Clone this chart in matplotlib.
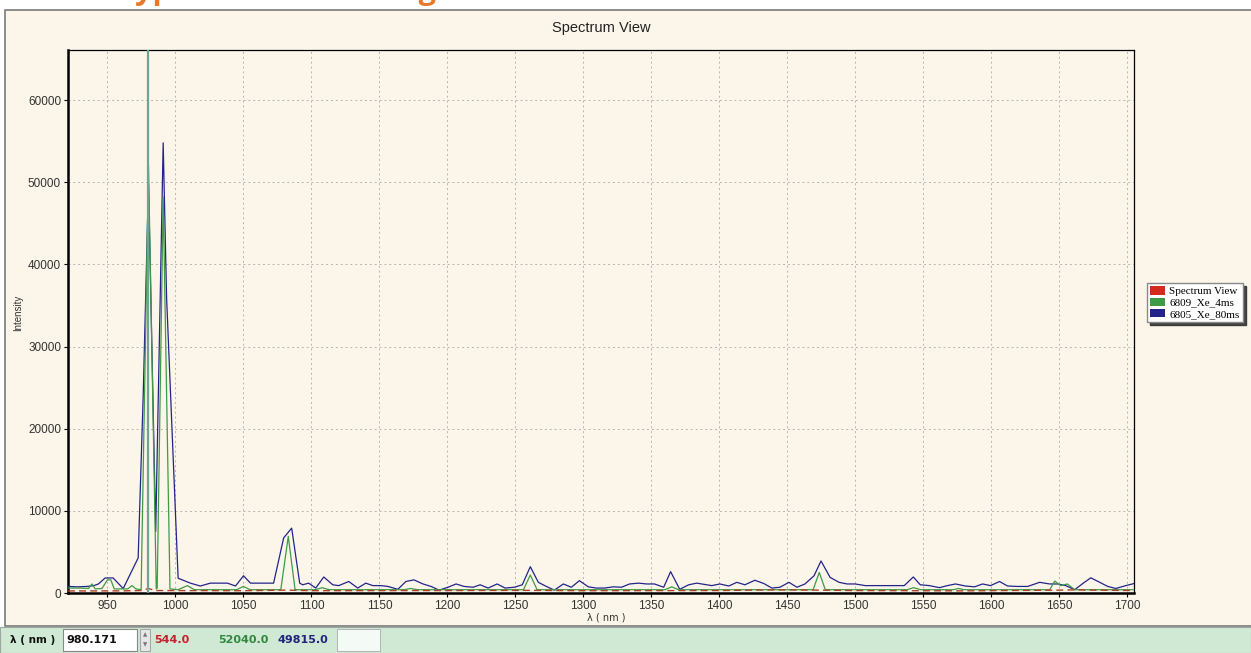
import matplotlib.pyplot as plt
from matplotlib.patches import Rectangle, Patch

# данные
wl_blue = [921, 928, 935, 940, 943.4, 948.3, 954.2, 961.6, 972.6, 976.3, 980.2, 985.5,
           991.0, 993.5, 1002.0, 1011.0, 1018.3, 1025.7, 1038.3, 1044.2, 1050.1, 1055.2,
           1072.2, 1079.6, 1085.5, 1091.4, 1093.6, 1098.0, 1103.2, 1109.1, 1115.7, 1120.1,
           1127.5, 1134.1, 1140.0, 1145.2, 1151.1, 1156.3, 1163.6, 1169.5, 1175.4, 1182.1,
           1188.0, 1193.9, 1200.5, 1206.4, 1212.3, 1218.9, 1224.1, 1230.0, 1236.6, 1242.5,
           1249.2, 1255.1, 1261.0, 1266.9, 1272.8, 1278.7, 1285.3, 1291.2, 1297.1, 1303.7,
           1309.6, 1315.5, 1322.2, 1328.1, 1334.0, 1340.6, 1346.5, 1352.4, 1359.1, 1364.2,
           1370.9, 1377.5, 1383.4, 1387.1, 1394.5, 1400.4, 1407.0, 1412.9, 1418.8, 1426.2,
           1432.8, 1438.7, 1444.6, 1451.2, 1457.1, 1463.0, 1469.7, 1474.8, 1481.5, 1488.1,
           1494.0, 1499.9, 1507.3, 1514.7, 1521.3, 1527.2, 1536.0, 1542.7, 1547.8, 1554.5,
           1561.9, 1567.8, 1573.7, 1581.0, 1587.7, 1593.6, 1599.5, 1606.1, 1612.0, 1619.4,
           1626.8, 1635.6, 1643.0, 1648.9, 1654.8, 1661.4, 1667.3, 1673.2, 1679.8, 1685.7,
           1691.6, 1699.0, 1705.0]
int_blue = [800, 750, 800, 900, 1100, 1830, 1830, 540, 4270, 24000, 49800, 7500,
            54800, 36000, 1800, 1200, 850, 1200, 1200, 850, 2100, 1200,
            1200, 6700, 7900, 1200, 1000, 1200, 600, 1950, 1000, 900,
            1400, 600, 1200, 900, 900, 800, 450, 1400, 1600, 1100,
            800, 350, 700, 1100, 800, 700, 1000, 600, 1100, 600,
            700, 1000, 3200, 1300, 800, 350, 1100, 700, 1500, 750,
            600, 600, 750, 700, 1100, 1200, 1100, 1100, 700, 2600,
            450, 1000, 1200, 1100, 900, 1100, 850, 1300, 1000, 1550,
            1150, 600, 700, 1300, 700, 1100, 2100, 3900, 1900, 1300,
            1100, 1100, 900, 900, 900, 900, 900, 1950, 1000, 900,
            650, 900, 1100, 850, 750, 1100, 900, 1400, 850, 800,
            800, 1300, 1100, 1100, 900, 400, 1150, 1850, 1300, 800,
            550, 900, 1150]

wl_green = [921, 930, 936, 938.7, 941, 946, 950, 952.5, 955, 965, 968, 971, 974.8,
            980.2, 985.9, 986.6, 991.0, 996, 1002, 1008.8, 1014, 1045, 1050, 1055,
            1077.5, 1083, 1088, 1103, 1108, 1113, 1168, 1173, 1178, 1256, 1261, 1266,
            1360, 1365, 1370, 1469, 1473.5, 1478, 1538, 1543, 1548, 1572, 1576, 1580,
            1643, 1646.7, 1651, 1656, 1661.4, 1705]
int_green = [600, 600, 550, 1100, 500, 550, 1600, 1600, 500, 500, 900, 500, 400,
             52040, 500, 600, 48200, 500, 400, 900, 400, 400, 800, 400,
             400, 6900, 400, 400, 650, 400, 400, 550, 400, 400, 2200, 400,
             400, 750, 400, 400, 2500, 400, 400, 650, 400, 400, 550, 400,
             400, 1450, 900, 1100, 400, 400]

wl_red = [921, 960, 975, 980.2, 985, 1050, 1083, 1100, 1200, 1260, 1300, 1400,
          1440, 1473, 1500, 1580, 1650, 1660, 1705]
int_red = [250, 260, 300, 544, 300, 280, 350, 280, 300, 320, 280, 300,
           380, 350, 300, 260, 350, 380, 300]

series_names = ['Spectrum View', '6809_Xe_4ms', '6805_Xe_80ms']
cursor_wl = 980.171
cursor_vals = ['544.0', '52040.0', '49815.0']
x_ticks = list(range(950, 1701, 50))
y_ticks = list(range(0, 60001, 10000))

c_red = '#d42a1e'
c_green = '#3f9a45'
c_blue = '#23238a'
cream = '#fcf6ea'

W, H = 1251, 653
fig = plt.figure(figsize=(W / 100, H / 100), dpi=100, facecolor='white')


def fx(x):
    return x / W


def fy(y):
    return 1 - y / H


# рамка окна и строка состояния
fig.patches.append(Rectangle((fx(5), fy(626)), 1, fy(10) - fy(626), transform=fig.transFigure,
                             facecolor=cream, edgecolor='#7a7a7a', lw=1.2, zorder=0))
fig.patches.append(Rectangle((0, 0), 1, fy(627), transform=fig.transFigure,
                             facecolor='#cfe9d5', edgecolor='#9aa89e', lw=0.8, zorder=0))

# заголовок сверху, обрезанный краем
fig.text(fx(118), fy(-1), 'Typical Results Using', color='#e8782a', fontsize=22,
         fontweight='bold', family='Open Sans', va='baseline', ha='left')

ax = fig.add_axes([fx(68), fy(593), fx(1134) - fx(68), fy(50) - fy(593)])
ax.set_zorder(2)
ax.set_facecolor(cream)

ax.plot(wl_blue, int_blue, color=c_blue, lw=0.9, zorder=3)
ax.plot(wl_green, int_green, color=c_green, lw=0.9, zorder=4)
ax.plot(wl_red, int_red, color='#b0402a', lw=1.0, ls=(0, (5, 3)), zorder=5)
ax.axvline(cursor_wl, color='#6fa393', lw=1.6, zorder=6)

ax.set_xlim(921, 1705)
ax.set_ylim(0, 66100)
ax.set_xticks(x_ticks)
ax.set_yticks(y_ticks)
ax.grid(True, color='#b4b4b4', ls=(0, (2, 3)), lw=0.7)
ax.tick_params(labelsize=8.5, labelcolor='#333333', length=3, width=0.8, pad=2)
for lab in ax.get_xticklabels() + ax.get_yticklabels():
    lab.set_family('Liberation Sans')
for side in ['left', 'bottom']:
    ax.spines[side].set_linewidth(1.8)
for side in ['top', 'right']:
    ax.spines[side].set_linewidth(0.9)

fig.text(fx(601), fy(28), 'Spectrum View', fontsize=10.5, family='Liberation Sans',
         ha='center', va='center', color='#222222')
fig.text(fx(606), fy(617), 'λ ( nm )', fontsize=7, family='DejaVu Sans',
         ha='center', va='center', color='#333333')
fig.text(fx(18), fy(313), 'Intensity', fontsize=7, family='Liberation Sans',
         rotation=90, ha='center', va='center', color='#333333')

handles = [Patch(facecolor=c, edgecolor='none') for c in (c_red, c_green, c_blue)]
leg = fig.legend(handles, series_names, loc='upper left',
                 bbox_to_anchor=(fx(1147), fy(283)), frameon=True, fancybox=False,
                 shadow={'color': '#333333', 'alpha': 0.9}, edgecolor='#888888',
                 prop={'family': 'Liberation Serif', 'size': 8},
                 handlelength=1.3, handleheight=0.8, labelspacing=0.1,
                 borderpad=0.3, handletextpad=0.4, borderaxespad=0)
leg.get_frame().set_facecolor('white')
leg.get_frame().set_alpha(1)

# строка состояния
fig.text(fx(10), fy(640), 'λ ( nm )', fontsize=7.5, fontweight='bold',
         family='DejaVu Sans', va='center', color='#111111')
fig.patches.append(Rectangle((fx(63), fy(651)), fx(137) - fx(63), fy(629) - fy(651),
                             transform=fig.transFigure, facecolor='white',
                             edgecolor='#888888', lw=0.8))
fig.text(fx(66), fy(640), f'{cursor_wl:.3f}', fontsize=8, fontweight='bold',
         family='DejaVu Sans', va='center', color='#111111')
fig.patches.append(Rectangle((fx(140), fy(651)), fx(150) - fx(140), fy(629) - fy(651),
                             transform=fig.transFigure, facecolor='#e6e6e6',
                             edgecolor='#999999', lw=0.6))
fig.text(fx(145), fy(635), '▲', fontsize=4, ha='center', va='center', color='#777777')
fig.text(fx(145), fy(645), '▼', fontsize=4, ha='center', va='center', color='#777777')
for xp, val, col in zip([154, 218, 278], cursor_vals, ['#c8202a', '#2e8a3a', '#22227a']):
    fig.text(fx(xp), fy(640), val, fontsize=8, fontweight='bold', family='DejaVu Sans',
             va='center', color=col)
fig.patches.append(Rectangle((fx(337), fy(651)), fx(380) - fx(337), fy(629) - fy(651),
                             transform=fig.transFigure, facecolor='#f4faf5',
                             edgecolor='#aaaaaa', lw=0.6))

fig.savefig('out.png', dpi=100, facecolor=fig.get_facecolor())
